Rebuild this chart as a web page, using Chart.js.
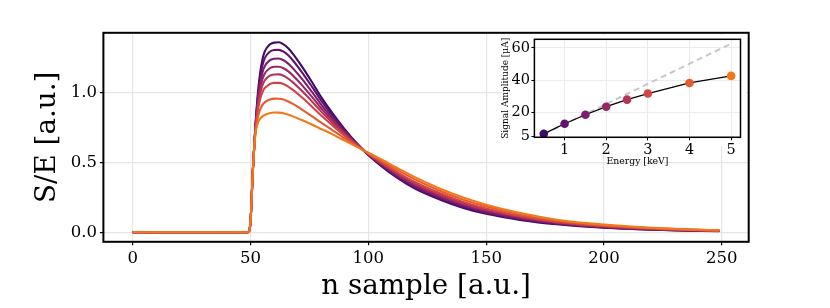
<!DOCTYPE html>
<html>
<head>
<meta charset="utf-8">
<script src="https://cdn.jsdelivr.net/npm/chart.js@4.4.1/dist/chart.umd.min.js"></script>
<style>
  body { margin: 0; background: #fff; }
  #wrap { position: relative; width: 830px; height: 308px; }
  #main { position: absolute; left: 0; top: 0; }
  #inset { position: absolute; left: 497px; top: 35px; }
</style>
</head>
<body>
<div id="wrap">
  <canvas id="main" width="830" height="308"></canvas>
  <canvas id="inset" width="249" height="140"></canvas>
</div>
<script>
// sample index shared by every pulse
const N_SAMPLE = [0, 49, 50, 51, 52, 53, 54, 55, 56, 58, 60, 62, 64, 66, 68, 72, 76, 80, 85, 90, 98, 105, 112, 120, 130, 140, 150, 165, 180, 200, 225, 249];

// normalised pulses S/E, one per energy
const SE_0_5 = [0, 0, 0.08, 0.45, 0.74, 0.97, 1.13, 1.23, 1.29, 1.34, 1.355, 1.357, 1.343, 1.315, 1.275, 1.18, 1.075, 0.965, 0.845, 0.735, 0.585, 0.48, 0.392, 0.31, 0.236, 0.176, 0.132, 0.087, 0.057, 0.032, 0.016, 0.008];
const SE_1 = [0, 0, 0.08, 0.449, 0.735, 0.949, 1.096, 1.187, 1.242, 1.288, 1.302, 1.303, 1.29, 1.264, 1.227, 1.139, 1.042, 0.941, 0.829, 0.726, 0.585, 0.485, 0.4, 0.319, 0.245, 0.184, 0.139, 0.092, 0.061, 0.035, 0.017, 0.009];
const SE_1_5 = [0, 0, 0.08, 0.448, 0.728, 0.925, 1.056, 1.137, 1.185, 1.226, 1.239, 1.241, 1.229, 1.205, 1.171, 1.092, 1.004, 0.912, 0.811, 0.716, 0.585, 0.49, 0.408, 0.329, 0.254, 0.193, 0.147, 0.098, 0.065, 0.037, 0.019, 0.009];
const SE_2 = [0, 0, 0.08, 0.447, 0.723, 0.902, 1.019, 1.091, 1.133, 1.17, 1.182, 1.183, 1.172, 1.15, 1.12, 1.048, 0.969, 0.886, 0.794, 0.707, 0.585, 0.496, 0.416, 0.339, 0.263, 0.202, 0.155, 0.104, 0.069, 0.04, 0.02, 0.01];
const SE_2_5 = [0, 0, 0.08, 0.445, 0.717, 0.881, 0.984, 1.047, 1.084, 1.117, 1.127, 1.128, 1.118, 1.098, 1.071, 1.007, 0.936, 0.862, 0.778, 0.699, 0.585, 0.501, 0.424, 0.347, 0.272, 0.21, 0.162, 0.109, 0.072, 0.043, 0.022, 0.011];
const SE_3 = [0, 0, 0.08, 0.444, 0.711, 0.858, 0.945, 0.998, 1.029, 1.057, 1.067, 1.067, 1.059, 1.041, 1.017, 0.961, 0.899, 0.834, 0.76, 0.689, 0.585, 0.506, 0.432, 0.357, 0.282, 0.219, 0.17, 0.115, 0.076, 0.045, 0.023, 0.012];
const SE_4 = [0, 0, 0.08, 0.442, 0.7, 0.814, 0.873, 0.908, 0.928, 0.947, 0.955, 0.954, 0.948, 0.934, 0.917, 0.875, 0.83, 0.783, 0.727, 0.671, 0.585, 0.516, 0.448, 0.376, 0.299, 0.235, 0.184, 0.126, 0.084, 0.05, 0.026, 0.013];
const SE_5 = [0, 0, 0.08, 0.44, 0.69, 0.775, 0.81, 0.828, 0.838, 0.85, 0.856, 0.855, 0.85, 0.84, 0.828, 0.8, 0.77, 0.738, 0.698, 0.655, 0.585, 0.525, 0.462, 0.392, 0.315, 0.25, 0.197, 0.135, 0.09, 0.055, 0.028, 0.014];

// inset: signal amplitude vs energy
const ENERGY = [0.5, 1, 1.5, 2, 2.5, 3, 4, 5];
const AMPLITUDE = [6.5, 12.8, 18.4, 23.4, 27.8, 31.6, 38.2, 42.6];
const LINEAR_E = [0.5, 5];
const LINEAR_A = [6.3, 62.7];

const X_TICKS = [0, 50, 100, 150, 200, 250];
const Y_TICKS = [0, 0.5, 1.0];
const INSET_X_TICKS = [1, 2, 3, 4, 5];
const INSET_Y_TICKS = [5, 20, 40, 60];

// inferno, evenly spaced 0.2 .. 0.7
const COLORS = ['#420a68', '#5f136e', '#7c1d6d', '#982766', '#b5345a', '#d04545', '#e55c30', '#f37819'];

const FONT = 'DejaVu Serif';

const framePlugin = {
  id: 'frame',
  afterDraw(chart, args, opts) {
    const { ctx, chartArea: a } = chart;
    ctx.save();
    ctx.strokeStyle = '#000';
    ctx.lineWidth = opts.width || 1.5;
    ctx.strokeRect(a.left, a.top, a.right - a.left, a.bottom - a.top);
    ctx.restore();
  }
};

const whiteBgPlugin = {
  id: 'whiteBg',
  beforeDraw(chart, args, opts) {
    const ctx = chart.ctx;
    ctx.save();
    ctx.fillStyle = '#fff';
    ctx.fillRect(opts.x, opts.y, opts.w, opts.h);
    ctx.restore();
  }
};

// fixed axis sizes, no extra room for edge labels
const fixWidth = w => s => { s.width = w; s.paddingTop = 0; s.paddingBottom = 0; };
const fixHeight = h => s => { s.height = h; };

const pulses = [SE_0_5, SE_1, SE_1_5, SE_2, SE_2_5, SE_3, SE_4, SE_5];

new Chart(document.getElementById('main'), {
  type: 'line',
  data: {
    datasets: pulses.map((curve, i) => ({
      data: N_SAMPLE.map((n, j) => ({ x: n, y: curve[j] })),
      borderColor: COLORS[i],
      borderWidth: 2.1,
      pointRadius: 0,
      cubicInterpolationMode: 'monotone',
      order: pulses.length - i
    }))
  },
  options: {
    responsive: false,
    animation: false,
    devicePixelRatio: 1,
    layout: { padding: { top: 32.8, right: 81.3, left: 0, bottom: 0 } },
    plugins: { legend: { display: false }, tooltip: { enabled: false }, frame: { width: 2 } },
    scales: {
      x: {
        type: 'linear',
        min: -12.45,
        max: 261.45,
        afterBuildTicks: s => { s.ticks = X_TICKS.map(v => ({ value: v })); },
        afterFit: fixHeight(66.2),
        ticks: { font: { family: FONT, size: 16.5 }, color: '#000', padding: 4, maxRotation: 0, autoSkip: false },
        grid: { color: '#e6e6e6', lineWidth: 1.2, tickColor: '#000', tickLength: 3.5, tickWidth: 1.2 },
        border: { display: false },
        title: { display: true, text: 'n sample [a.u.]', color: '#000', font: { family: FONT, size: 27.8, lineHeight: 1.2 }, padding: { top: 0, bottom: 4.3 } }
      },
      y: {
        min: -0.068,
        max: 1.425,
        afterBuildTicks: s => { s.ticks = Y_TICKS.map(v => ({ value: v })); },
        afterFit: fixWidth(103.4),
        ticks: { font: { family: FONT, size: 16.5 }, color: '#000', padding: 3, callback: v => v.toFixed(1) },
        grid: { color: '#e6e6e6', lineWidth: 1.2, tickColor: '#000', tickLength: 3.5, tickWidth: 1.2 },
        border: { display: false },
        title: { display: true, text: 'S/E [a.u.]', color: '#000', font: { family: FONT, size: 27.8, lineHeight: 1.2 }, padding: { top: 31.1, bottom: 0 } }
      }
    }
  },
  plugins: [framePlugin]
});

new Chart(document.getElementById('inset'), {
  type: 'line',
  data: {
    datasets: [
      {
        data: ENERGY.map((e, i) => ({ x: e, y: AMPLITUDE[i] })),
        borderColor: '#000',
        borderWidth: 1.3,
        pointRadius: 4.3,
        pointBorderWidth: 0,
        pointBackgroundColor: COLORS,
        tension: 0,
        order: 1
      },
      {
        data: LINEAR_E.map((e, i) => ({ x: e, y: LINEAR_A[i] })),
        borderColor: '#c8c8c8',
        borderWidth: 2,
        borderDash: [6, 4],
        pointRadius: 0,
        order: 2
      }
    ]
  },
  options: {
    responsive: false,
    animation: false,
    devicePixelRatio: 1,
    layout: { padding: { top: 1, right: 5.5, left: 0, bottom: 0 } },
    plugins: {
      legend: { display: false },
      tooltip: { enabled: false },
      frame: { width: 1.5 },
      whiteBg: { x: 5, y: 0, w: 246, h: 111 }
    },
    scales: {
      x: {
        type: 'linear',
        min: 0.275,
        max: 5.225,
        afterBuildTicks: s => { s.ticks = INSET_X_TICKS.map(v => ({ value: v })); },
        afterFit: fixHeight(37.7),
        ticks: { font: { family: FONT, size: 14.5 }, color: '#000', padding: 1, maxRotation: 0, autoSkip: false },
        grid: { color: '#ececec', lineWidth: 1, tickColor: '#000', tickLength: 3, tickWidth: 1 },
        border: { display: false },
        title: { display: true, text: 'Energy [keV]', color: '#000', font: { family: FONT, size: 9.3, lineHeight: 1.2 }, padding: { top: 0, bottom: 7.9 } }
      },
      y: {
        min: 4.35,
        max: 65.4,
        afterBuildTicks: s => { s.ticks = INSET_Y_TICKS.map(v => ({ value: v })); },
        afterFit: fixWidth(37.4),
        ticks: { font: { family: FONT, size: 14.5 }, color: '#000', padding: 1.5, autoSkip: false },
        grid: { color: '#ececec', lineWidth: 1, tickColor: '#000', tickLength: 3, tickWidth: 1 },
        border: { display: false },
        title: { display: true, text: 'Signal Amplitude [μA]', color: '#000', font: { family: FONT, size: 9, lineHeight: 1.2 }, padding: { top: 3.5, bottom: 0 } }
      }
    }
  },
  plugins: [whiteBgPlugin, framePlugin]
});
</script>
</body>
</html>
